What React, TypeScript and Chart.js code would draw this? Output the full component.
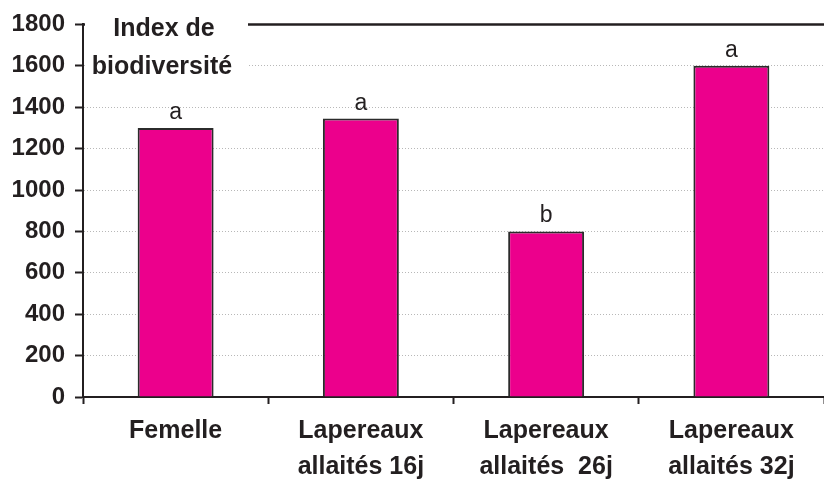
import React, { useEffect, useRef } from "react";
import { Chart, registerables } from "chart.js";

Chart.register(...registerables);

const categories: string[][] = [
  ["Femelle"],
  ["Lapereaux", "allaités 16j"],
  ["Lapereaux", "allaités  26j"],
  ["Lapereaux", "allaités 32j"],
];
const values: number[] = [1300, 1345, 800, 1600];
const letters: string[] = ["a", "a", "b", "a"];
const yTitle: string[] = ["Index de", "biodiversité"];
const yMin = 0;
const yMax = 1800;
const yStep = 200;

const FONT = "'Liberation Sans', Arial, Helvetica, sans-serif";

const overlayPlugin = {
  id: "overlay",
  afterDatasetsDraw(chart: any) {
    const ctx = chart.ctx;
    const meta = chart.getDatasetMeta(0);
    ctx.save();
    ctx.fillStyle = "#231f20";
    ctx.font = `23px ${FONT}`;
    ctx.textAlign = "center";
    ctx.textBaseline = "alphabetic";
    meta.data.forEach((bar: any, i: number) => {
      ctx.fillText(letters[i], bar.x, bar.y - 9);
    });
    ctx.restore();
  },
  afterDraw(chart: any) {
    const ctx = chart.ctx;
    const area = chart.chartArea;
    const y = chart.scales.y;
    const topY = y.getPixelForValue(yMax);
    ctx.save();
    ctx.strokeStyle = "#231f20";
    ctx.lineWidth = 2.5;
    ctx.beginPath();
    ctx.moveTo(area.left, topY);
    ctx.lineTo(area.right, topY);
    ctx.stroke();
    ctx.fillStyle = "#ffffff";
    ctx.fillRect(area.left + 2, 0, 246 - area.left, 84);
    ctx.fillStyle = "#231f20";
    ctx.font = `bold 25px ${FONT}`;
    ctx.textAlign = "center";
    ctx.textBaseline = "middle";
    ctx.fillText(yTitle[0], 164, 29);
    ctx.fillText(yTitle[1], 162, 67);
    ctx.restore();
  },
};

export default function App() {
  const ref = useRef<HTMLCanvasElement | null>(null);
  useEffect(() => {
    document.body.style.margin = "0";
    const canvas = ref.current!;
    const chart = new Chart(canvas, {
      type: "bar",
      data: {
        labels: categories,
        datasets: [
          {
            data: values,
            backgroundColor: "#ec008c",
            borderColor: "#2b2b2b",
            borderWidth: 2,
            barPercentage: 0.82,
            categoryPercentage: 0.5,
          },
        ],
      },
      options: {
        animation: false,
        responsive: false,
        devicePixelRatio: 1,
        layout: { padding: { top: 22, right: 0, left: 0, bottom: 0 } },
        plugins: {
          legend: { display: false },
          tooltip: { enabled: false },
        },
        scales: {
          x: {
            grid: {
              offset: true,
              drawOnChartArea: false,
              drawTicks: true,
              tickLength: 7,
              tickWidth: 2,
              tickColor: "#231f20",
            },
            border: { display: true, color: "#231f20", width: 2 },
            ticks: {
              color: "#231f20",
              font: { family: FONT, size: 25, weight: "bold", lineHeight: 1.45 },
              padding: 9,
              maxRotation: 0,
              autoSkip: false,
            },
            afterFit: (s: any) => {
              s.height = 83;
            },
          },
          y: {
            min: yMin,
            max: yMax,
            grid: {
              color: "#b8b8b8",
              lineWidth: 1,
              tickLength: 8,
              tickWidth: 2,
              tickColor: "#231f20",
              tickBorderDash: [],
            },
            border: { display: true, color: "#231f20", width: 2, dash: [1, 2] },
            ticks: {
              stepSize: yStep,
              color: "#231f20",
              font: { family: FONT, size: 24, weight: "bold" },
              padding: 10,
              callback: (v: any) => String(v),
            },
            afterFit: (s: any) => {
              s.width = 83;
            },
          },
        },
      },
      plugins: [overlayPlugin],
    });
    return () => chart.destroy();
  }, []);
  return (
    <div style={{ width: 824, height: 480, position: "relative" }}>
      <canvas ref={ref} width={824} height={480} style={{ display: "block" }} />
    </div>
  );
}
